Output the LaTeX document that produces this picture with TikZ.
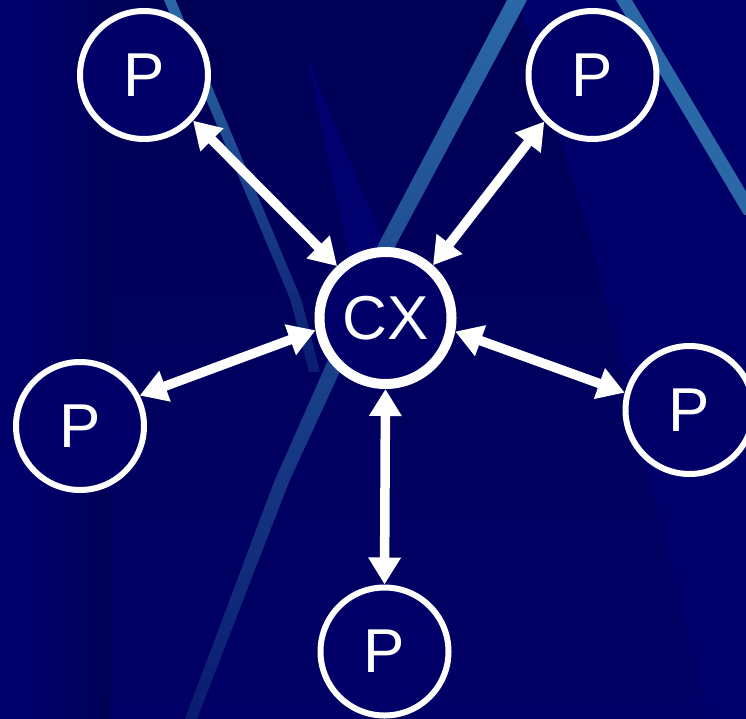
\documentclass[tikz,border=0pt]{standalone}
\usepackage{fontspec}
\setmainfont{Liberation Sans}
\usetikzlibrary{arrows.meta}

\definecolor{navybase}{HTML}{00006A}
\definecolor{navydeep}{HTML}{000056}
\definecolor{navymid}{HTML}{000066}
\definecolor{navylight}{HTML}{00006F}
\definecolor{nodefill}{HTML}{000068}
\definecolor{streak}{HTML}{2B68A6}
\definecolor{streakmid}{HTML}{255A9E}
\definecolor{streakfade}{HTML}{0A1C70}

\tikzset{
  peer/.style={circle, draw=white, line width=6pt, fill=nodefill,
    minimum size=128pt, inner sep=0pt, text=white,
    font=\fontsize{62}{62}\selectfont},
  hub/.style={peer, line width=10pt, minimum size=132pt},
  link/.style={draw=white, line width=9.5pt,
    {Triangle[length=27pt,width=31pt]}-{Triangle[length=27pt,width=31pt]}},
}

\begin{document}
\begin{tikzpicture}[x=1pt, y=-1pt]
  \useasboundingbox (0,0) rectangle (746,719);

  % background
  \begin{scope}
    \clip (0,0) rectangle (746,719);
    \fill[navybase] (0,0) rectangle (746,719);
    \shade[left color=navybase, right color=navydeep]
      (40,0) rectangle (110,719);
    \shade[top color=navydeep, bottom color=navymid]
      (110,0) -- (518,0) -- (593,250) -- (707,719) -- (110,719) -- cycle;
    \fill[navylight] (306,55) -- (350,262) -- (392,262) -- cycle;

    % light streaks
    \shade[top color=streak, middle color=streakmid, bottom color=streakfade]
      (164,0) -- (175.5,0) -- (238.5,150) -- (301.5,300) -- (320,372)
      -- (309,372) -- (290.5,300) -- (227.5,150) -- cycle;
    \shade[top color=streak, middle color=streakmid, bottom color=streakfade]
      (507,0) -- (527,0) -- (397,243) -- (342,367) -- (289,482) -- (197,719)
      -- (185,719) -- (274,482) -- (325,367) -- (379,243) -- cycle;
    \fill[streak] (616,0) -- (632,0) -- (760,215) -- (744,215) -- cycle;
  \end{scope}

  % nodes
  \node[peer] (ptl) at (144,75)      {P};
  \node[peer] (ptr) at (592.5,75)    {P};
  \node[hub]  (cx)  at (385.5,318)   {CX};
  \node[peer] (pl)  at (80,426)      {P};
  \node[peer] (pr)  at (689.5,410)   {P};
  \node[peer] (pb)  at (384.5,651.5) {P};

  % connectors
  \draw[link] (cx.133)   -- (ptl.-43.5);
  \draw[link] (cx.48)    -- (ptr.-136.8);
  \draw[link] (cx.190.7) -- (pl.27.8);
  \draw[link] (cx.-11.1) -- (pr.165.8);
  \draw[link] (cx.-90)   -- (pb.90);
\end{tikzpicture}
\end{document}
